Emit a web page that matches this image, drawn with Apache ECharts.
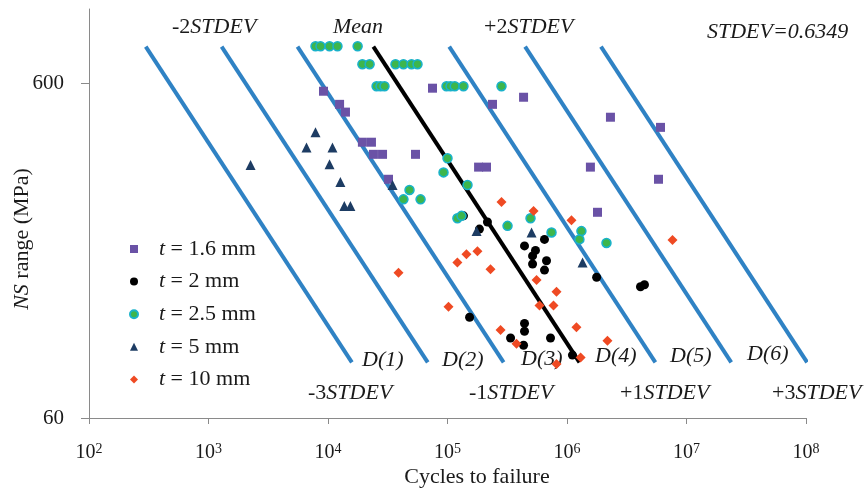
<!DOCTYPE html>
<html>
<head>
<meta charset="utf-8">
<script src="https://cdn.jsdelivr.net/npm/echarts@6/dist/echarts.min.js"></script>
<style>
  html, body { margin: 0; padding: 0; background: #fff; }
  #chart { width: 867px; height: 488px; }
</style>
</head>
<body>
<div id="chart"></div>
<script>
// Fatigue results: nominal stress range S (MPa) against cycles to failure N.

const seriesNames = ['t = 1.6 mm', 't = 2 mm', 't = 2.5 mm', 't = 5 mm', 't = 10 mm'];

// t = 1.6 mm
const t16N = [9170, 12500, 14000, 19400, 23100, 24000, 28600, 54000, 32100, 74900, 182000, 212000, 238000, 433000, 2310000, 6060000, 1570000, 5830000, 1800000];
const t16S = [568, 519, 492, 400, 400, 368, 368, 368, 310, 580, 337, 337, 519, 545, 475, 443, 337, 310, 247];

// t = 2 mm
const t2N = [136000, 216000, 185000, 648000, 441000, 545000, 515000, 674000, 515000, 648000, 153000, 441000, 441000, 337000, 433000, 728000, 1110000, 1770000, 4120000, 4450000];
const t2S = [241, 231, 220, 205, 196, 190, 183, 177, 173, 166, 120, 115, 109, 104, 99, 104, 92.5, 158, 148, 150];

// t = 2.5 mm
const t25N = [7860, 8650, 10300, 12000, 17700, 19400, 22300, 36700, 42800, 50000, 56100, 25500, 27500, 29700, 98100, 106000, 115000, 136000, 283000, 100000, 92600, 147000, 48100, 42800, 59500, 121000, 131000, 318000, 495000, 742000, 1320000, 1270000, 2140000];
const t25S = [774, 774, 774, 774, 774, 684, 684, 684, 684, 684, 684, 588, 588, 588, 588, 588, 588, 588, 588, 358, 325, 298, 288, 270, 270, 237, 241, 225, 237, 215, 217, 205, 200];

// t = 5 mm
const t5N = [7860, 6610, 10900, 2250, 10300, 12700, 13700, 15400, 34700, 175000, 505000, 1350000];
const t5S = [428, 386, 386, 342, 344, 304, 258, 258, 298, 217, 215, 175];

// t = 10 mm
const t10N = [283000, 525000, 1090000, 7640000, 38900, 121000, 144000, 178000, 229000, 556000, 817000, 589000, 771000, 102000, 278000, 1200000, 378000, 2180000, 1300000, 817000];
const t10S = [265, 249, 234, 204, 163, 175, 185, 189, 167, 155, 143, 130, 130, 129, 110, 112, 100, 102, 91, 87];

// Mean S-N curve: log10 N = meanLogA - slopeM * log10 S, and its +/- k*STDEV shifts
const meanLogA = 9.661;
const slopeM = 1.829;
const stdev = 0.6349;
const stdevSteps = [-3, -2, -1, 1, 2, 3];
const curveS = [772, 88];

// Axis ticks
const xTickExponents = [2, 3, 4, 5, 6, 7, 8];
const yTickValues = [60, 600];
const yRange = [60, 1000];

const FONT = '"Liberation Serif", "Times New Roman", serif';
const lg = Math.log10;

function toPoints(ns, ss) {
  return ns.map((n, i) => [lg(n), lg(ss[i])]);
}
function curvePoints(k) {
  return curveS.map(s => [meanLogA + k * stdev - slopeM * lg(s), lg(s)]);
}

const series = [];
stdevSteps.forEach(k => {
  series.push({
    type: 'line', data: curvePoints(k), showSymbol: false, silent: true,
    lineStyle: { color: '#2f82c4', width: 4 }, z: 1
  });
});
series.push({
  type: 'line', data: curvePoints(0), showSymbol: false, silent: true,
  lineStyle: { color: '#000', width: 4 }, z: 1
});

const scatterDefs = [
  { name: seriesNames[0], n: t16N, s: t16S, symbol: 'rect', size: 9, style: { color: '#6a52a6' } },
  { name: seriesNames[1], n: t2N, s: t2S, symbol: 'circle', size: 9, style: { color: '#000' } },
  { name: seriesNames[2], n: t25N, s: t25S, symbol: 'circle', size: 9, style: { color: '#3db64c', borderColor: '#19b2ca', borderWidth: 1.5 } },
  { name: seriesNames[3], n: t5N, s: t5S, symbol: 'triangle', size: 10, style: { color: '#1d3c63' } },
  { name: seriesNames[4], n: t10N, s: t10S, symbol: 'diamond', size: 10, style: { color: '#ef4a23' } }
];
scatterDefs.forEach(d => {
  series.push({
    type: 'scatter', name: d.name, data: toPoints(d.n, d.s),
    symbol: d.symbol, symbolSize: d.size,
    itemStyle: Object.assign({ opacity: 1 }, d.style), z: 2
  });
});

const axisGrey = '#8a8a8a';
const richBase = { fontFamily: FONT, fontSize: 22, color: '#1a1a1a' };
const italic = Object.assign({}, richBase, { fontStyle: 'italic' });

function label(text, x, y, extra) {
  return Object.assign({
    type: 'text', x: x, y: y, silent: true,
    style: Object.assign({
      text: text, fontFamily: FONT, fontSize: 22, fill: '#1a1a1a',
      align: 'left', verticalAlign: 'middle', textAlign: 'left', textVerticalAlign: 'middle',
      rich: { i: italic, r: richBase }
    }, extra || {})
  });
}

const chart = echarts.init(document.getElementById('chart'), null, { renderer: 'canvas' });
chart.setOption({
  animation: false,
  backgroundColor: '#fff',
  grid: { left: 89, right: 61, top: 9, bottom: 70, containLabel: false },
  xAxis: {
    type: 'value', min: xTickExponents[0], max: xTickExponents[xTickExponents.length - 1], interval: 1,
    axisLine: { lineStyle: { color: axisGrey, width: 1 } },
    axisTick: { length: 6, lineStyle: { color: axisGrey, width: 1 } },
    splitLine: { show: false },
    axisLabel: {
      margin: 24,
      formatter: v => '{b|10}{s|' + Math.round(v) + '}',
      rich: {
        b: { fontFamily: FONT, fontSize: 20, lineHeight: 22, color: '#1a1a1a' },
        s: { fontFamily: FONT, fontSize: 14, lineHeight: 14, verticalAlign: 'top', color: '#1a1a1a' }
      }
    }
  },
  yAxis: {
    type: 'value', min: lg(yRange[0]), max: lg(yRange[1]),
    axisLine: { show: true, lineStyle: { color: axisGrey, width: 1 } },
    axisTick: { show: true, length: 8, customValues: yTickValues.map(lg), lineStyle: { color: axisGrey, width: 1 } },
    splitLine: { show: false },
    axisLabel: {
      margin: 25, customValues: yTickValues.map(lg),
      formatter: v => String(Math.round(Math.pow(10, v))),
      fontFamily: FONT, fontSize: 21, color: '#1a1a1a'
    }
  },
  legend: {
    data: seriesNames, orient: 'vertical', left: 129, top: 238, padding: 0,
    itemWidth: 8, itemHeight: 8, itemGap: 10.6,
    formatter: name => '{g|}{i|t}' + name.slice(1),
    textStyle: {
      fontFamily: FONT, fontSize: 22, lineHeight: 22, color: '#1a1a1a',
      rich: {
        g: { width: 16, fontSize: 22, lineHeight: 22 },
        i: { fontFamily: FONT, fontSize: 22, lineHeight: 22, fontStyle: 'italic', color: '#1a1a1a' }
      }
    }
  },
  series: series,
  graphic: [
    label('-2{i|STDEV}', 172, 27),
    label('{i|Mean}', 333, 27),
    label('+2{i|STDEV}', 484, 27),
    label('{i|STDEV=0.6349}', 707, 32),
    label('{i|D(1)}', 362, 360),
    label('{i|D(2)}', 442, 360),
    label('{i|D(3)}', 521, 359),
    label('{i|D(4)}', 595, 356),
    label('{i|D(5)}', 670, 356),
    label('{i|D(6)}', 747, 354),
    label('-3{i|STDEV}', 308, 393),
    label('-1{i|STDEV}', 469, 393),
    label('+1{i|STDEV}', 620, 393),
    label('+3{i|STDEV}', 772, 393),
    label('Cycles to failure', 477, 477, { align: 'center', textAlign: 'center' }),
    Object.assign(label('{i|NS} range (MPa)', 22, 239, { align: 'center', textAlign: 'center' }), { rotation: Math.PI / 2 })
  ]
});
</script>
</body>
</html>
